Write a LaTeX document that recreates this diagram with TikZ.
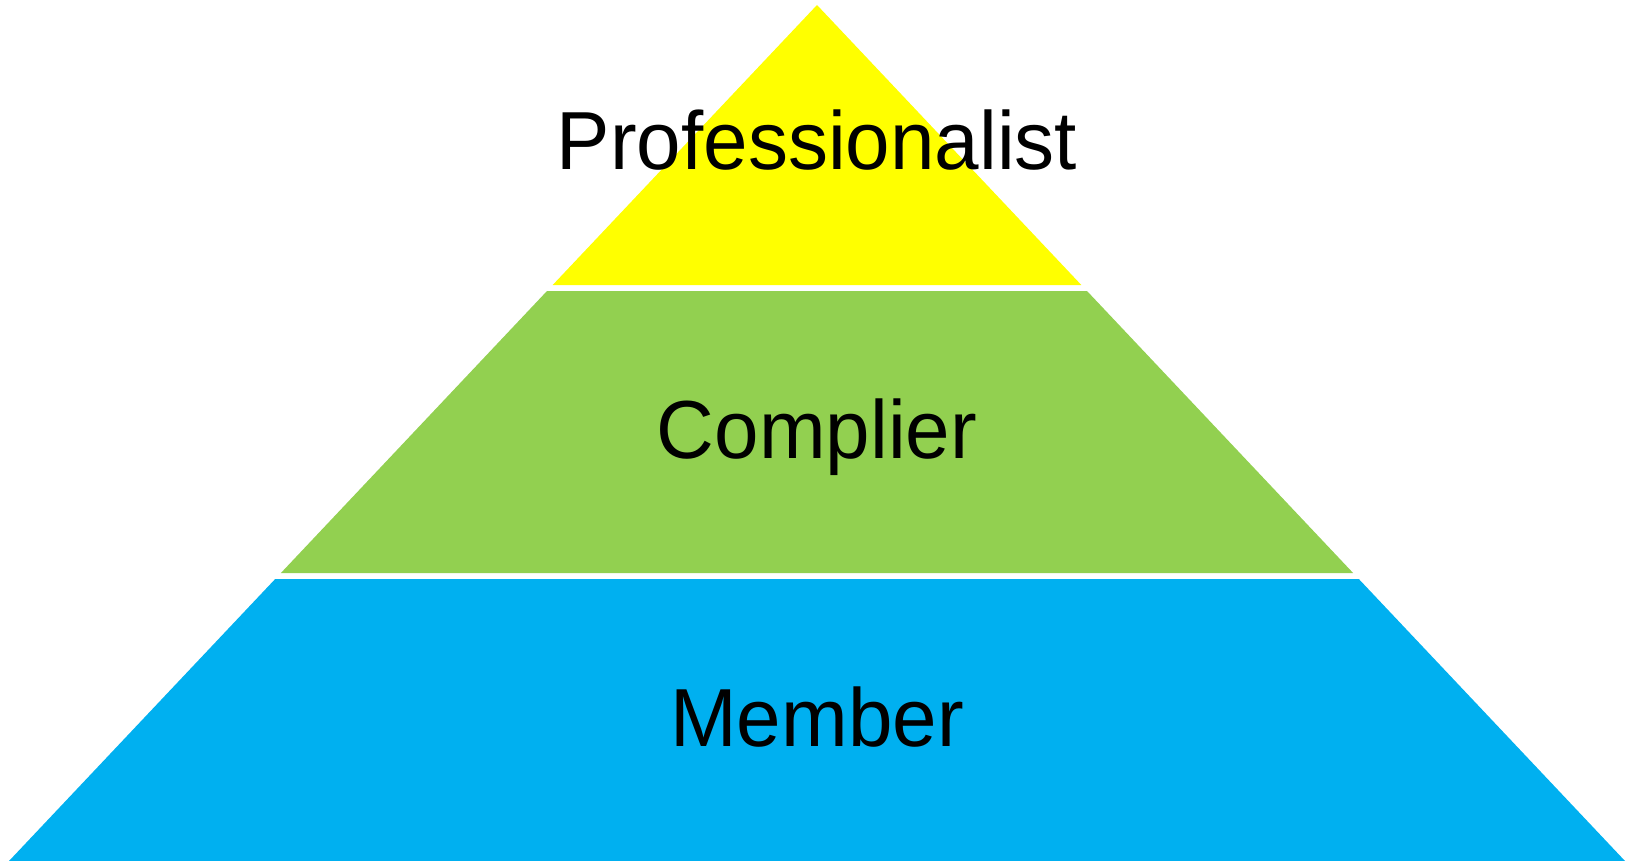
\documentclass[tikz,border=0pt]{standalone}
\usepackage{fontspec}
\setmainfont{Liberation Sans}
\definecolor{tiertop}{HTML}{FFFF00}
\definecolor{tiermid}{HTML}{92D050}
\definecolor{tierbase}{HTML}{00B0F0}
\begin{document}
\begin{tikzpicture}[x=1pt,y=-1pt,
  tierlabel/.style={anchor=base,inner sep=0pt,font=\fontsize{80}{96}\selectfont,text=black,yscale=1.03}]
\useasboundingbox (0,0) rectangle (1633,861);
% three stacked bands of one triangle, separated by thin white gaps
\fill[tiertop]  (817,5) -- (1081.3,285) -- (552.7,285) -- cycle;
\fill[tiermid]  (547,291) -- (1087,291) -- (1353.1,573) -- (280.9,573) -- cycle;
\fill[tierbase] (275.2,579) -- (1358.8,579) -- (1625,861) -- (9,861) -- cycle;
% labels
\node[tierlabel] (prof) at (817,170) {Professionalist};
\node[tierlabel] (comp) at (817,458) {Complier};
\node[tierlabel] (memb) at (817,746) {Member};
\end{tikzpicture}
\end{document}
